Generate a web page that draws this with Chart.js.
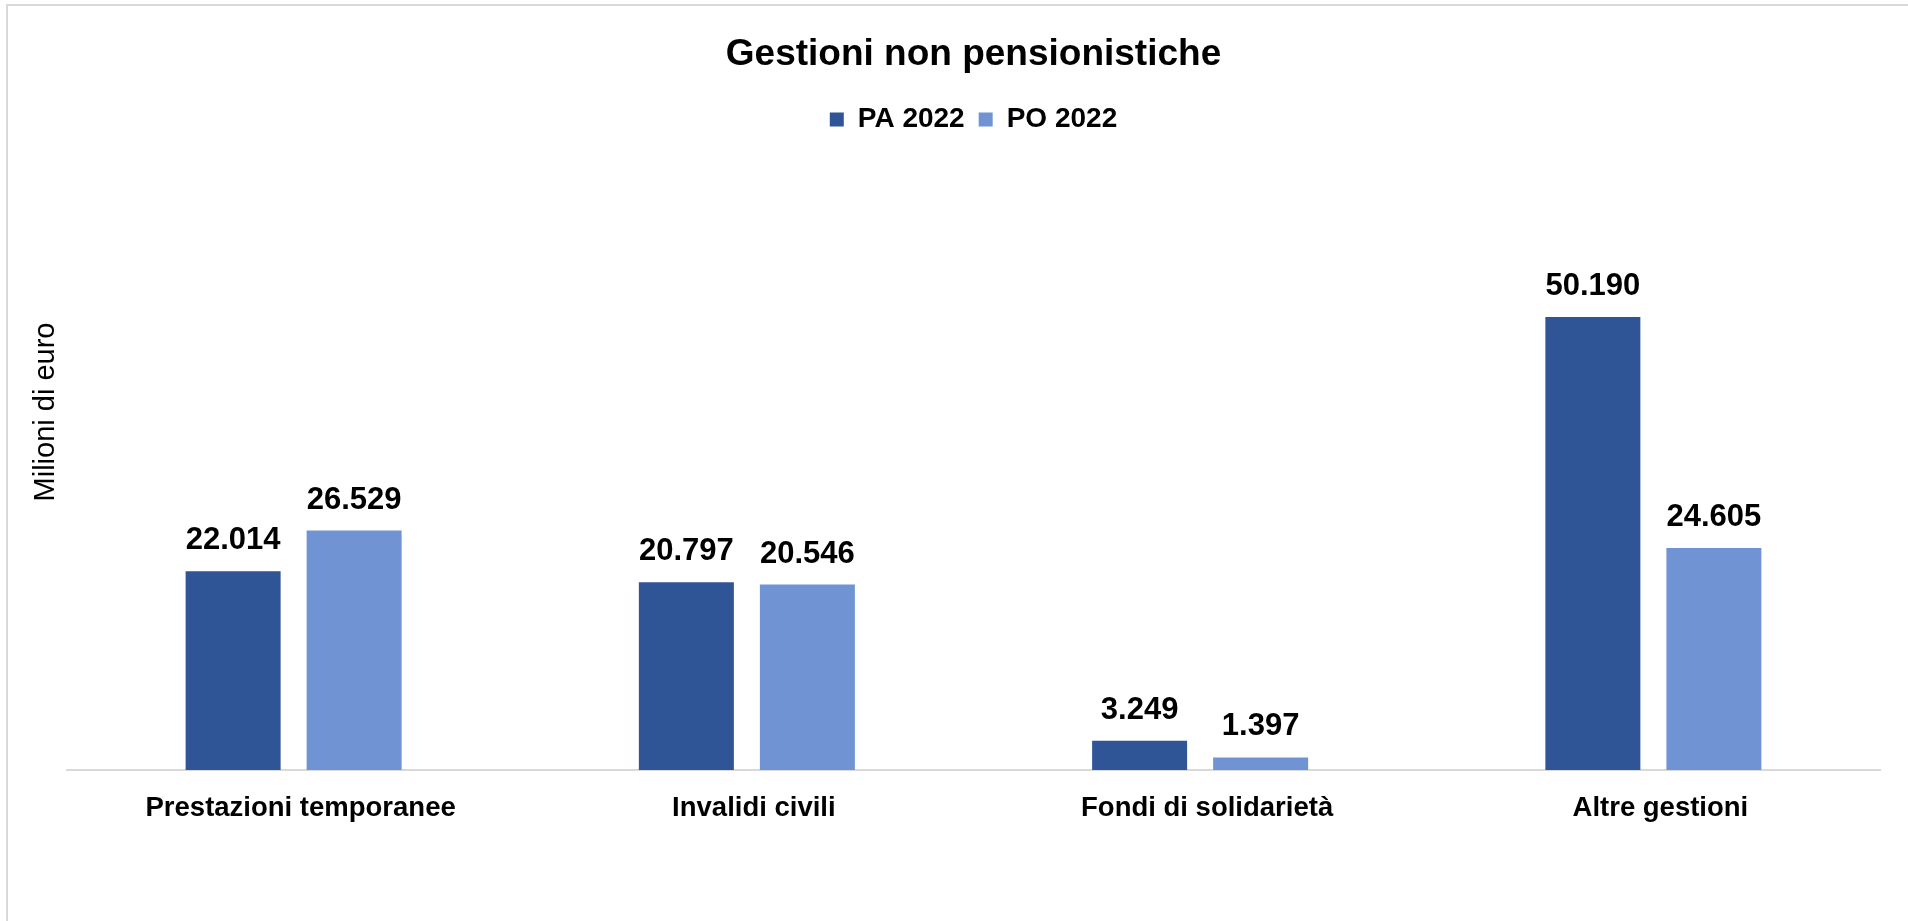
<!DOCTYPE html>
<html>
<head>
<meta charset="utf-8">
<script src="https://cdn.jsdelivr.net/npm/chart.js@4/dist/chart.umd.min.js"></script>
<style>
    html, body { margin: 0; padding: 0; background: #fff; overflow: hidden; }
    #frame {
        position: absolute; left: 6px; top: 4px; width: 1920px; height: 940px;
        border: 2px solid #d9d9d9; box-sizing: border-box;
    }
    #wrap { position: absolute; left: 0; top: 0; width: 1908px; height: 921px; }
</style>
</head>
<body>
<div id="frame"></div>
<div id="wrap"><canvas id="chart"></canvas></div>
<script>
const categories = ['Prestazioni temporanee', 'Invalidi civili', 'Fondi di solidarietà', 'Altre gestioni'];
const pa2022 = [22014, 20797, 3249, 50190];
const po2022 = [26529, 20546, 1397, 24605];
const seriesNames = ['PA 2022', 'PO 2022'];
const yTitle = 'Milioni di euro';

const FONT = '"Liberation Sans", Arial, sans-serif';

function formatIt(v) {
    return String(Math.round(v)).replace(/\B(?=(\d{3})+(?!\d))/g, '.');
}

// valori sopra le barre
const barLabels = {
    id: 'barLabels',
    afterDatasetsDraw(chart) {
        const ctx = chart.ctx;
        ctx.save();
        ctx.font = 'bold 31px ' + FONT;
        ctx.fillStyle = '#000';
        ctx.textAlign = 'center';
        ctx.textBaseline = 'alphabetic';
        chart.data.datasets.forEach((ds, i) => {
            chart.getDatasetMeta(i).data.forEach((bar, j) => {
                ctx.fillText(formatIt(ds.data[j]), bar.x, bar.y - 22);
            });
        });
        ctx.restore();
    }
};

// titolo asse verticale (posizionato come nell'originale, non centrato sull'area)
const axisTitle = {
    id: 'axisTitle',
    afterDraw(chart) {
        const ctx = chart.ctx;
        ctx.save();
        ctx.translate(46, 412);
        ctx.rotate(-Math.PI / 2);
        ctx.font = '29px ' + FONT;
        ctx.fillStyle = '#000';
        ctx.textAlign = 'center';
        ctx.textBaseline = 'middle';
        ctx.fillText(yTitle, 0, 0);
        ctx.restore();
    }
};

// spazio sotto la legenda
const legendGap = {
    id: 'legendGap',
    beforeInit(chart) {
        const fit = chart.legend.fit;
        chart.legend.fit = function () {
            fit.bind(this)();
            this.height += 85;
        };
    }
};

const ctx = document.getElementById('chart').getContext('2d');

const chart = new Chart(ctx, {
    type: 'bar',
    data: {
        labels: categories,
        datasets: [
            { label: seriesNames[0], data: pa2022, backgroundColor: '#2f5597', borderWidth: 0 },
            { label: seriesNames[1], data: po2022, backgroundColor: '#7094d3', borderWidth: 0 }
        ]
    },
    options: {
        responsive: true,
        maintainAspectRatio: false,
        animation: false,
        categoryPercentage: 0.534,
        barPercentage: 0.785,
        layout: { padding: { top: 13, left: 67, right: 28, bottom: 74 } },
        plugins: {
            title: {
                display: true,
                text: 'Gestioni non pensionistiche',
                color: '#000',
                font: { family: FONT, size: 37, weight: 'bold' },
                padding: { top: 20, bottom: 14 }
            },
            legend: {
                position: 'top',
                labels: {
                    color: '#000',
                    font: { family: FONT, size: 28, weight: 'bold' },
                    boxWidth: 14,
                    boxHeight: 14,
                    padding: 14
                }
            },
            tooltip: { enabled: false }
        },
        scales: {
            x: {
                grid: { display: false, drawTicks: false },
                border: { display: true, color: '#d9d9d9', width: 2 },
                ticks: {
                    color: '#000',
                    font: { family: FONT, size: 27.5, weight: 'bold' },
                    padding: 22,
                    labelOffset: 7,
                    maxRotation: 0
                }
            },
            y: {
                display: false,
                min: 0,
                max: 60000
            }
        }
    },
    plugins: [barLabels, axisTitle, legendGap]
});
</script>
</body>
</html>
